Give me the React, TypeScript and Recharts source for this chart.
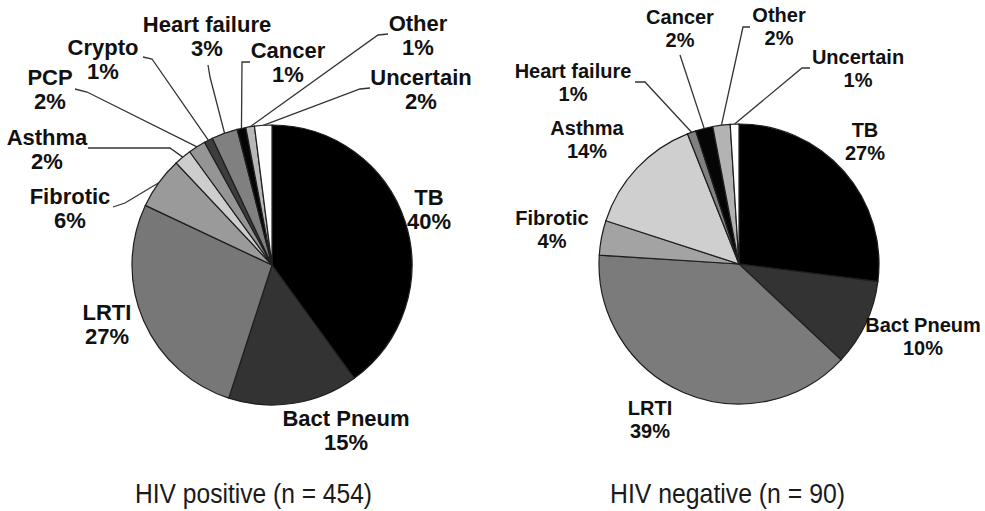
import { PieChart, Pie, Cell } from 'recharts';

// HIV positive (n = 454)
const posNames = ['TB', 'Bact Pneum', 'LRTI', 'Fibrotic', 'Asthma', 'PCP', 'Crypto', 'Heart failure', 'Cancer', 'Other', 'Uncertain'];
const posValues = [40, 15, 27, 6, 2, 2, 1, 3, 1, 1, 2];

// HIV negative (n = 90)
const negNames = ['TB', 'Bact Pneum', 'LRTI', 'Fibrotic', 'Asthma', 'Heart failure', 'Cancer', 'Other', 'Uncertain'];
const negValues = [27, 10, 39, 4, 14, 1, 2, 2, 1];

const titles = ['HIV positive (n = 454)', 'HIV negative (n = 90)'];

const posColors: Record<string, string> = {
  TB: '#000000',
  'Bact Pneum': '#333333',
  LRTI: '#777777',
  Fibrotic: '#9a9a9a',
  Asthma: '#cdcdcd',
  PCP: '#959595',
  Crypto: '#3d3d3d',
  'Heart failure': '#808080',
  Cancer: '#050505',
  Other: '#b8b8b8',
  Uncertain: '#ffffff',
};

const negColors: Record<string, string> = {
  TB: '#000000',
  'Bact Pneum': '#333333',
  LRTI: '#7b7b7b',
  Fibrotic: '#a3a3a3',
  Asthma: '#cfcfcf',
  'Heart failure': '#808080',
  Cancer: '#050505',
  Other: '#b3b3b3',
  Uncertain: '#ffffff',
};

type Pt = [number, number];
type LabelPos = { x: number; y: number; leader?: Pt[] };

// hand placed label spots (first line centre) and leader elbows
const posLayout: Record<string, LabelPos> = {
  TB: { x: 429, y: 197 },
  'Bact Pneum': { x: 346, y: 418 },
  LRTI: { x: 107, y: 312 },
  Fibrotic: { x: 70, y: 196, leader: [[113, 207], [125, 203]] },
  Asthma: { x: 47, y: 137, leader: [[88, 148], [170, 148]] },
  PCP: { x: 50, y: 77, leader: [[75, 89], [87, 92]] },
  Crypto: { x: 103, y: 47, leader: [[143, 57], [152, 59]] },
  'Heart failure': { x: 207, y: 24, leader: [[208, 65], [210, 77]] },
  Cancer: { x: 288, y: 50, leader: [[250, 62], [242, 62]] },
  Other: { x: 418, y: 23, leader: [[388, 34], [378, 35]] },
  Uncertain: { x: 421, y: 77, leader: [[370, 88], [360, 89]] },
};

const negLayout: Record<string, LabelPos> = {
  TB: { x: 865, y: 130 },
  'Bact Pneum': { x: 923, y: 325 },
  LRTI: { x: 650, y: 408 },
  Fibrotic: { x: 552, y: 218 },
  Asthma: { x: 587, y: 128 },
  'Heart failure': { x: 573, y: 71, leader: [[635, 82], [645, 82]] },
  Cancer: { x: 680, y: 17, leader: [[680, 55]] },
  Other: { x: 779, y: 15, leader: [[750, 27], [743, 27]] },
  Uncertain: { x: 858, y: 57, leader: [[810, 68], [802, 68]] },
};

const posData = posNames.map((name, i) => ({ name, value: posValues[i] }));
const negData = negNames.map((name, i) => ({ name, value: negValues[i] }));

const RAD = Math.PI / 180;

function makeLabel(layout: Record<string, LabelPos>, fontSize: number, gap: number) {
  return (props: any) => {
    const { cx, cy, midAngle, outerRadius, name, value } = props;
    const spot = layout[name];
    if (!spot) return null;
    const edge: Pt = [
      cx + outerRadius * Math.cos(-midAngle * RAD),
      cy + outerRadius * Math.sin(-midAngle * RAD),
    ];
    const base = spot.y + fontSize * 0.36;
    return (
      <g>
        {spot.leader && (
          <polyline
            points={[...spot.leader, edge].map((p) => p.join(',')).join(' ')}
            fill="none"
            stroke="#333"
            strokeWidth={1.3}
          />
        )}
        <text
          x={spot.x}
          y={base}
          textAnchor="middle"
          fontFamily="'Liberation Sans', Arial, sans-serif"
          fontWeight="bold"
          fontSize={fontSize}
          fill="#111"
        >
          <tspan x={spot.x}>{name}</tspan>
          <tspan x={spot.x} dy={gap}>{`${value}%`}</tspan>
        </text>
      </g>
    );
  };
}

export default function App() {
  return (
    <div style={{ position: 'absolute', left: 0, top: 0, width: 985, height: 511, background: '#fff' }}>
      <PieChart width={985} height={511}>
        <Pie
          data={posData}
          dataKey="value"
          nameKey="name"
          cx={267}
          cy={260}
          outerRadius={140}
          startAngle={90}
          endAngle={-270}
          stroke="#1e1e1e"
          strokeWidth={1.2}
          labelLine={false}
          label={makeLabel(posLayout, 22, 24)}
          isAnimationActive={false}
        >
          {posData.map((d) => (
            <Cell key={d.name} fill={posColors[d.name]} />
          ))}
        </Pie>
        <Pie
          data={negData}
          dataKey="value"
          nameKey="name"
          cx={734}
          cy={259}
          outerRadius={140}
          startAngle={90}
          endAngle={-270}
          stroke="#1e1e1e"
          strokeWidth={1.2}
          labelLine={false}
          label={makeLabel(negLayout, 20, 23)}
          isAnimationActive={false}
        >
          {negData.map((d) => (
            <Cell key={d.name} fill={negColors[d.name]} />
          ))}
        </Pie>
      </PieChart>
      <svg width={985} height={511} style={{ position: 'absolute', left: 0, top: 0, pointerEvents: 'none' }}>
        {titles.map((t, i) => (
          <text
            key={t}
            x={i === 0 ? 253.5 : 727.5}
            y={503}
            textAnchor="middle"
            fontFamily="'Liberation Sans', Arial, sans-serif"
            fontSize={27.5}
            textLength={i === 0 ? 237 : 235}
            lengthAdjust="spacingAndGlyphs"
            fill="#1a1a1a"
          >
            {t}
          </text>
        ))}
      </svg>
    </div>
  );
}
